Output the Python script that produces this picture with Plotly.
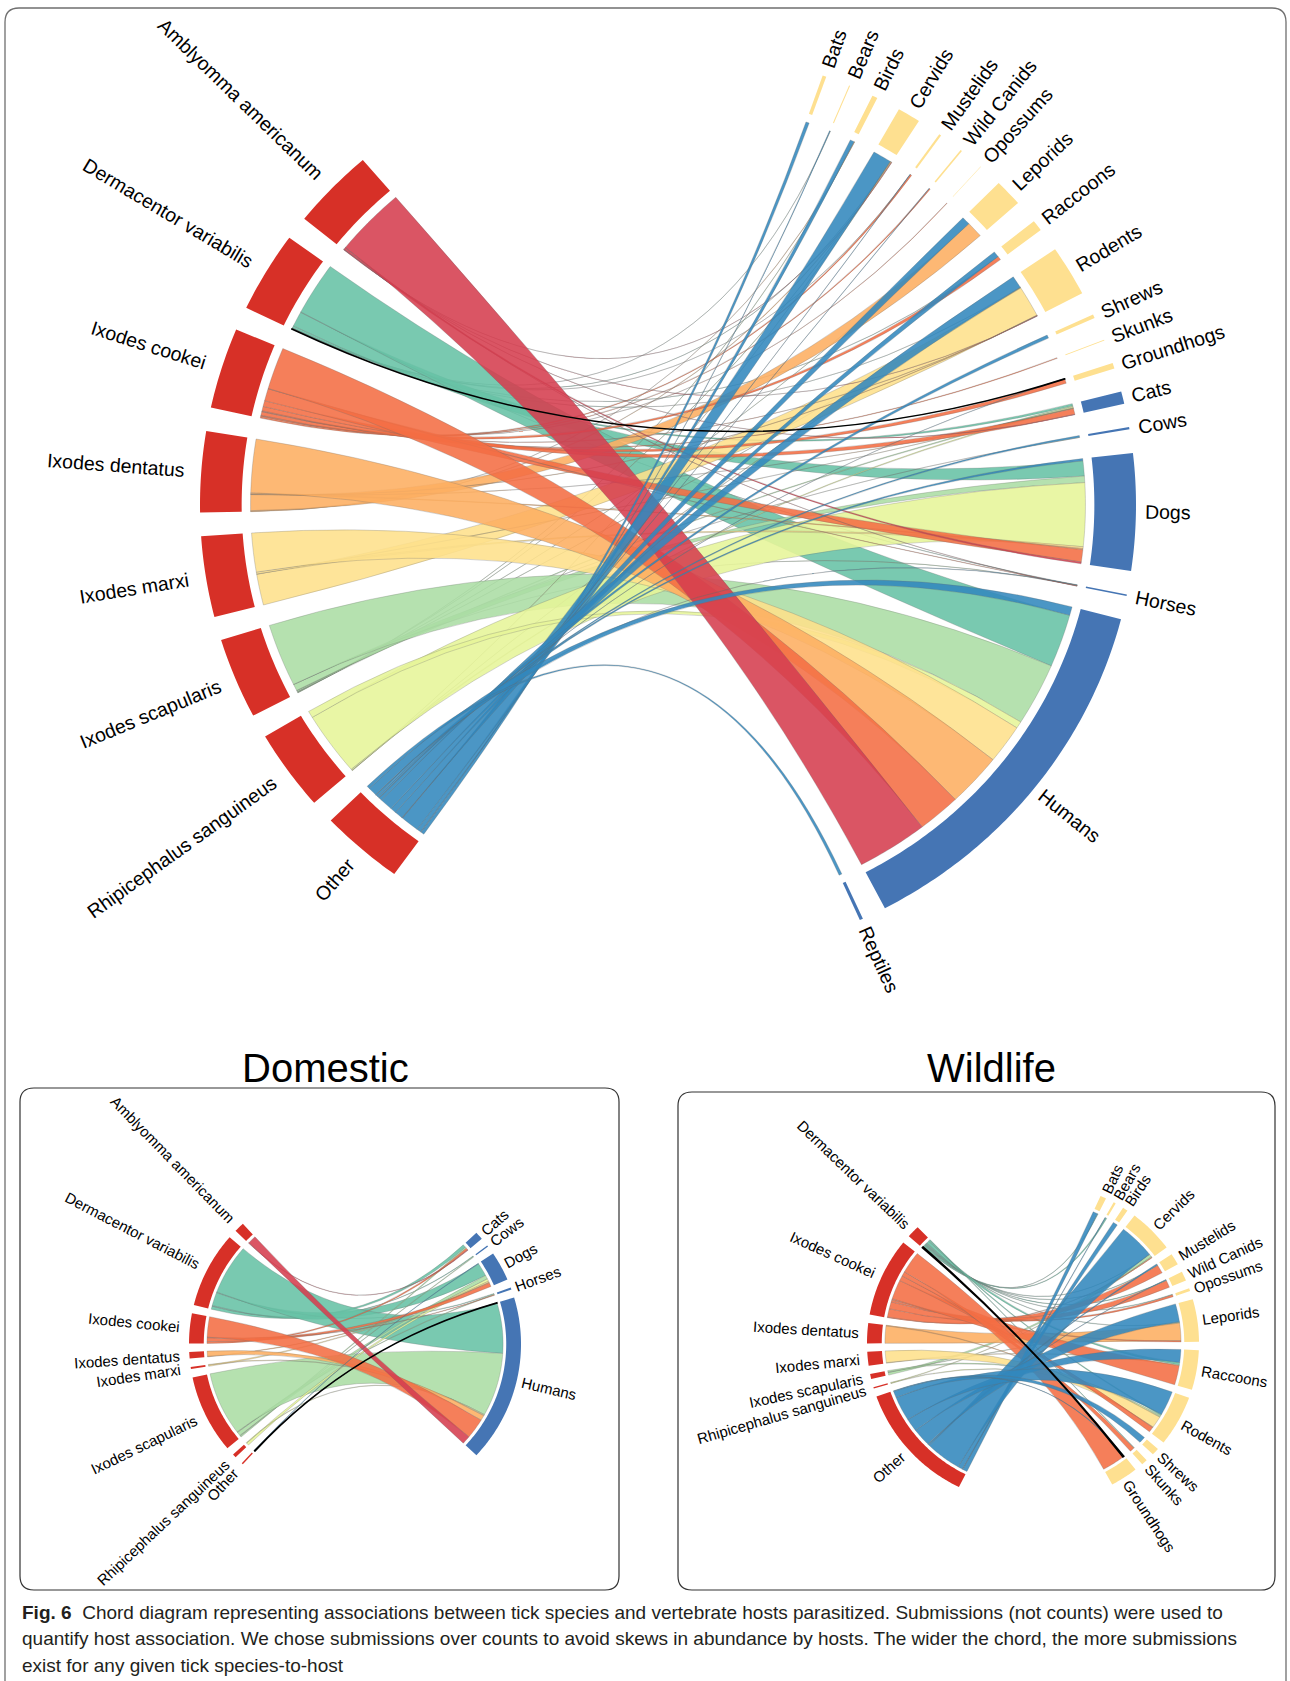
import math
import plotly.graph_objects as go

W, H = 1290, 1681

# ---------------------------------------------------------------- categories
TICKS = ["Amblyomma americanum", "Dermacentor variabilis", "Ixodes cookei",
         "Ixodes dentatus", "Ixodes marxi", "Ixodes scapularis",
         "Rhipicephalus sanguineus", "Other"]
TICK_COLORS = {
    "Amblyomma americanum": "#D53E4F",
    "Ixodes cookei": "#F46D43",
    "Ixodes dentatus": "#FDAE61",
    "Ixodes marxi": "#FEE08B",
    "Rhipicephalus sanguineus": "#E6F598",
    "Ixodes scapularis": "#ABDDA4",
    "Dermacentor variabilis": "#66C2A5",
    "Other": "#3288BD",
}
# stacking order of the links inside every host sector (clockwise)
HOST_LINK_ORDER = ["Other", "Dermacentor variabilis", "Ixodes scapularis",
                   "Rhipicephalus sanguineus", "Ixodes marxi", "Ixodes dentatus",
                   "Ixodes cookei", "Amblyomma americanum"]
# links are drawn in this order (later = on top)
DRAW_ORDER = ["Dermacentor variabilis", "Ixodes scapularis", "Rhipicephalus sanguineus",
              "Ixodes marxi", "Ixodes dentatus", "Ixodes cookei",
              "Amblyomma americanum", "Other"]

WILD_HOSTS = ["Bats", "Bears", "Birds", "Cervids", "Mustelids", "Wild Canids",
              "Opossums", "Leporids", "Raccoons", "Rodents", "Shrews", "Skunks",
              "Groundhogs"]
DOMESTIC_HOSTS = ["Cats", "Cows", "Dogs", "Horses", "Humans"]
ALL_HOSTS = WILD_HOSTS + DOMESTIC_HOSTS + ["Reptiles"]

TICK_ARC_COLOR = "#D73027"
WILD_ARC_COLOR = "#FEE090"
DOMESTIC_ARC_COLOR = "#4575B4"

# ------------------------------------------------ all hosts: % of submissions
# columns follow ALL_HOSTS
ALL_AMBLYOMMA = [0, 0, 0, 0.4, 0, 0, 0, 0, 0, 0.3, 0, 0, 0, 0.5, 0, 2.5, 0.3, 96.0, 0]
ALL_DERMACENTOR = [0, 0.3, 0, 0.3, 0.2, 0, 0, 0, 0.4, 0.3, 0, 0, 0.5, 3.0, 0, 21.0, 0.5, 73.5, 0]
ALL_COOKEI = [0, 0, 0, 0, 2.0, 1.5, 0.5, 0, 5.0, 0.5, 0, 1.0, 6.0, 8.0, 0, 17.0, 0.5, 58.0, 0]
ALL_DENTATUS = [0, 0, 0.5, 1.0, 0, 0, 0, 22.0, 0, 0.5, 0, 0, 0, 0.5, 0, 1.5, 0, 74.0, 0]
ALL_MARXI = [0, 0, 0, 0, 0, 0, 0, 0, 0, 43.0, 0, 0, 0, 0.5, 0, 2.5, 0, 54.0, 0]
ALL_SCAPULARIS = [0, 0, 0.5, 0.5, 0, 0, 0, 0.5, 0, 0.5, 0, 0, 0, 1.5, 0.3, 9.0, 0.2, 87.0, 0]
ALL_SANGUINEUS = [0, 0, 0, 0.5, 0, 0, 0, 0, 0, 0.5, 0, 0, 0, 1.5, 0, 88.0, 0, 9.5, 0]
ALL_OTHER = [4.5, 1.0, 5.5, 25.0, 0.5, 0.5, 0, 11.0, 8.0, 17.0, 4.5, 0, 0.5, 0, 2.5, 3.0, 0.5, 12.0, 4.0]

# ------------------------------------------------ domestic hosts: submissions
# columns follow DOMESTIC_HOSTS
DOM_AMBLYOMMA = [1, 0, 0, 0, 13]
DOM_DERMACENTOR = [5, 1, 21, 1, 79]
DOM_COOKEI = [3, 0, 6, 1, 32]
DOM_DENTATUS = [0, 0, 1, 0, 8]
DOM_MARXI = [0, 0, 2, 0, 1]
DOM_SCAPULARIS = [2, 1, 6, 1, 100]
DOM_SANGUINEUS = [0, 0, 4, 0, 1]
DOM_OTHER = [0, 0, 1, 0, 1]

# ------------------------------------------------ wildlife hosts: submissions
# columns follow WILD_HOSTS
WILD_DERMACENTOR = [1, 2, 0, 1, 1, 1, 1, 1, 4, 2, 0, 1, 2]
WILD_COOKEI = [0, 0, 0, 1, 13, 11, 3, 2, 30, 8, 0, 7, 34]
WILD_DENTATUS = [0, 0, 0, 0, 0, 0, 0, 27, 0, 1, 0, 0, 0]
WILD_MARXI = [0, 0, 0, 0, 0, 0, 0, 0, 1, 18, 0, 0, 0]
WILD_SCAPULARIS = [0, 0, 0, 4, 0, 0, 0, 1, 0, 2, 0, 0, 0]
WILD_SANGUINEUS = [0, 0, 0, 1, 0, 0, 0, 0, 0, 1, 0, 0, 0]
WILD_OTHER = [7, 1, 7, 54, 2, 1, 0, 28, 20, 38, 10, 0, 1]

CAPTION = [
    "<b>Fig. 6</b>  Chord diagram representing associations between tick species and "
    "vertebrate hosts parasitized. Submissions (not counts) were used to",
    "quantify host association. We chose submissions over counts to avoid skews in "
    "abundance by hosts. The wider the chord, the more submissions",
    "exist for any given tick species-to-host",
]

LABEL_FONT = "Arial, Liberation Sans, Helvetica, sans-serif"

# Arial advance widths (1/1000 em) used to centre rotated labels
_AW = {' ': 278, 'A': 667, 'B': 667, 'C': 722, 'D': 722, 'E': 667, 'F': 611, 'G': 778,
       'H': 722, 'I': 278, 'J': 500, 'K': 667, 'L': 556, 'M': 833, 'N': 722, 'O': 778,
       'P': 667, 'Q': 778, 'R': 722, 'S': 667, 'T': 611, 'U': 722, 'V': 667, 'W': 944,
       'X': 667, 'Y': 667, 'Z': 611, 'a': 556, 'b': 556, 'c': 500, 'd': 556, 'e': 556,
       'f': 278, 'g': 556, 'h': 556, 'i': 222, 'j': 222, 'k': 500, 'l': 222, 'm': 833,
       'n': 556, 'o': 556, 'p': 556, 'q': 556, 'r': 333, 's': 500, 't': 278, 'u': 556,
       'v': 500, 'w': 722, 'x': 500, 'y': 500, 'z': 500}


def text_width(s, size):
    return sum(_AW.get(c, 556) for c in s) * size / 1000.0


def rgba(hex_color, a):
    h = hex_color.lstrip("#")
    return "rgba(%d,%d,%d,%.2f)" % (int(h[0:2], 16), int(h[2:4], 16), int(h[4:6], 16), a)


class Ellipse:
    def __init__(self, cx, cy, rx, ry):
        self.cx, self.cy, self.rx, self.ry = cx, cy, rx, ry

    def pt(self, deg, f):
        t = math.radians(deg)
        return (self.cx + self.rx * f * math.cos(t), self.cy - self.ry * f * math.sin(t))

    def arc(self, a0, a1, f):
        n = max(2, int(abs(a1 - a0) / 0.6) + 2)
        return [self.pt(a0 + (a1 - a0) * i / (n - 1), f) for i in range(n)]


def fmt(p):
    return "%.2f,%.2f" % p


R_IN, R_LINK = 0.911, 0.892


def chord(shapes, annotations, g, ticks, hosts, rows, first_host_deg, gap,
          top_gap, bottom_gap, label_size, pad_left, pad_right, highlight):
    nt, nh = len(ticks), len(hosts)
    tick_tot = [sum(r) for r in rows]
    host_tot = [sum(rows[i][j] for i in range(nt)) for j in range(nh)]
    total = sum(tick_tot) + sum(host_tot)
    k = (360.0 - (nt - 1 + nh - 1) * gap - top_gap - bottom_gap) / total

    # sectors laid out clockwise: hosts on the right, then ticks bottom-up on the left
    host_span, a = [], first_host_deg
    for j in range(nh):
        host_span.append((a, a - host_tot[j] * k))
        a -= host_tot[j] * k + gap
    a += gap - bottom_gap
    tick_span = [None] * nt
    for i in reversed(range(nt)):
        tick_span[i] = (a, a - tick_tot[i] * k)
        a -= tick_tot[i] * k + gap

    # link slots inside tick sectors (hosts in clockwise order, highlight first)
    tick_slot = {}
    for i in range(nt):
        order = list(range(nh))
        if highlight and highlight[0] == ticks[i]:
            hj = hosts.index(highlight[1])
            order.remove(hj)
            order.insert(0, hj)
        pos = tick_span[i][0]
        for j in order:
            w = rows[i][j] * k
            if rows[i][j] > 0:
                tick_slot[(i, j)] = (pos, pos - w)
            pos -= w
    host_slot = {}
    for j in range(nh):
        pos = host_span[j][0]
        for name in HOST_LINK_ORDER:
            if name not in ticks:
                continue
            i = ticks.index(name)
            w = rows[i][j] * k
            if rows[i][j] > 0:
                host_slot[(i, j)] = (pos, pos - w)
            pos -= w

    def link_shape(i, j, fill, line_color, line_width):
        s0, s1 = tick_slot[(i, j)]
        t0, t1 = host_slot[(i, j)]
        c = "%.2f,%.2f" % (g.cx, g.cy)
        sp = g.arc(s0, s1, R_LINK)
        tp = g.arc(t0, t1, R_LINK)
        d = "M" + fmt(sp[0]) + "".join(" L" + fmt(p) for p in sp[1:])
        d += " Q" + c + " " + fmt(tp[0]) + "".join(" L" + fmt(p) for p in tp[1:])
        d += " Q" + c + " " + fmt(sp[0]) + " Z"
        return dict(type="path", path=d, xref="x", yref="y", fillcolor=fill,
                    line=dict(color=line_color, width=line_width), layer="above")

    hl = None
    for name in DRAW_ORDER:
        if name not in ticks:
            continue
        i = ticks.index(name)
        for j in range(nh):
            if rows[i][j] <= 0:
                continue
            if highlight and highlight == (ticks[i], hosts[j]):
                hl = (i, j)
                continue
            shapes.append(link_shape(i, j, rgba(TICK_COLORS[ticks[i]], 0.88),
                                     "rgba(105,105,105,0.45)", 0.6))
    if hl:
        shapes.append(link_shape(hl[0], hl[1], rgba(TICK_COLORS[ticks[hl[0]]], 0.9),
                                 "#000000", 1.3))

    def sector(a0, a1, color, label):
        outer = g.arc(a0, a1, 1.0)
        inner = g.arc(a1, a0, R_IN)
        d = "M" + fmt(outer[0]) + "".join(" L" + fmt(p) for p in outer[1:])
        d += "".join(" L" + fmt(p) for p in inner) + " Z"
        shapes.append(dict(type="path", path=d, xref="x", yref="y", fillcolor=color,
                           line=dict(width=0), layer="above"))
        mid = (a0 + a1) / 2.0
        t = math.radians(mid)
        ux, uy = math.cos(t), -math.sin(t)
        px, py = g.pt(mid, 1.0)
        right = math.cos(t) >= 0
        dist = (pad_right if right else pad_left) + text_width(label, label_size) / 2.0
        angle = -mid if right else 180 - mid
        while angle > 180:
            angle -= 360
        while angle < -180:
            angle += 360
        annotations.append(dict(x=px + ux * dist, y=py + uy * dist, xref="x", yref="y",
                                text=label, showarrow=False, textangle=angle,
                                xanchor="center", yanchor="middle",
                                font=dict(family=LABEL_FONT, size=label_size, color="#000")))

    for j, h in enumerate(hosts):
        col = WILD_ARC_COLOR if h in WILD_HOSTS else DOMESTIC_ARC_COLOR
        sector(host_span[j][0], host_span[j][1], col, h)
    for i, t in enumerate(ticks):
        sector(tick_span[i][0], tick_span[i][1], TICK_ARC_COLOR, t)


def rrect(x0, y0, x1, y1, r):
    return ("M%g,%g L%g,%g Q%g,%g %g,%g L%g,%g Q%g,%g %g,%g L%g,%g Q%g,%g %g,%g "
            "L%g,%g Q%g,%g %g,%g Z" % (x0 + r, y0, x1 - r, y0, x1, y0, x1, y0 + r,
                                       x1, y1 - r, x1, y1, x1 - r, y1, x0 + r, y1,
                                       x0, y1, x0, y1 - r, x0, y0 + r, x0, y0, x0 + r, y0))


shapes, annotations = [], []

# frames
shapes.append(dict(type="path", path=rrect(5, 8, 1286, 1760, 14), xref="x", yref="y",
                    line=dict(color="#6f6f6f", width=1.3), fillcolor="rgba(0,0,0,0)",
                    layer="below"))
shapes.append(dict(type="path", path=rrect(20, 1088, 619, 1590, 14), xref="x", yref="y",
                    line=dict(color="#333333", width=1.2), fillcolor="rgba(0,0,0,0)",
                    layer="below"))
shapes.append(dict(type="path", path=rrect(678, 1092, 1275, 1590, 14), xref="x", yref="y",
                    line=dict(color="#333333", width=1.2), fillcolor="rgba(0,0,0,0)",
                    layer="below"))

# all hosts
chord(shapes, annotations, Ellipse(668, 505, 468, 455), TICKS, ALL_HOSTS,
      [ALL_AMBLYOMMA, ALL_DERMACENTOR, ALL_COOKEI, ALL_DENTATUS, ALL_MARXI,
       ALL_SCAPULARIS, ALL_SANGUINEUS, ALL_OTHER],
      first_host_deg=70.7, gap=3.0, top_gap=60.0, bottom_gap=60.0,
      label_size=19.5, pad_left=17, pad_right=9,
      highlight=("Dermacentor variabilis", "Groundhogs"))

# domestic hosts
chord(shapes, annotations, Ellipse(355, 1344, 166, 163), TICKS, DOMESTIC_HOSTS,
      [DOM_AMBLYOMMA, DOM_DERMACENTOR, DOM_COOKEI, DOM_DENTATUS, DOM_MARXI,
       DOM_SCAPULARIS, DOM_SANGUINEUS, DOM_OTHER],
      first_host_deg=43.0, gap=3.0, top_gap=89.5, bottom_gap=89.5,
      label_size=15, pad_left=10, pad_right=5, highlight=("Other", "Humans"))

# wildlife hosts
chord(shapes, annotations, Ellipse(1033, 1343, 166, 161), TICKS[1:], WILD_HOSTS,
      [WILD_DERMACENTOR, WILD_COOKEI, WILD_DENTATUS, WILD_MARXI, WILD_SCAPULARIS,
       WILD_SANGUINEUS, WILD_OTHER],
      first_host_deg=66.0, gap=3.0, top_gap=68.0, bottom_gap=55.0,
      label_size=15, pad_left=8, pad_right=5,
      highlight=("Dermacentor variabilis", "Groundhogs"))

# panel titles
for title, x in (("Domestic", 325), ("Wildlife", 991)):
    annotations.append(dict(x=x, y=1068, xref="x", yref="y", text=title, showarrow=False,
                            xanchor="center", yanchor="middle",
                            font=dict(family=LABEL_FONT, size=40, color="#000")))

# caption
for n, line in enumerate(CAPTION):
    annotations.append(dict(x=20, y=1612 + 26.5 * n, xref="x", yref="y", text=line,
                            showarrow=False, xanchor="left", yanchor="middle",
                            font=dict(family="Liberation Sans Narrow, Arial Narrow, "
                                             "Liberation Sans, sans-serif",
                                      size=19, color="#231F20")))

fig = go.Figure()
fig.add_trace(go.Scatter(x=[0, W], y=[0, H], mode="markers",
                         marker=dict(opacity=0), hoverinfo="skip", showlegend=False))
fig.update_layout(
    width=W, height=H, autosize=False,
    margin=dict(l=0, r=0, t=0, b=0),
    paper_bgcolor="white", plot_bgcolor="white",
    xaxis=dict(range=[0, W], visible=False, fixedrange=True),
    yaxis=dict(range=[H, 0], visible=False, fixedrange=True),
    shapes=shapes, annotations=annotations, showlegend=False,
)
fig.write_html("out.html")
